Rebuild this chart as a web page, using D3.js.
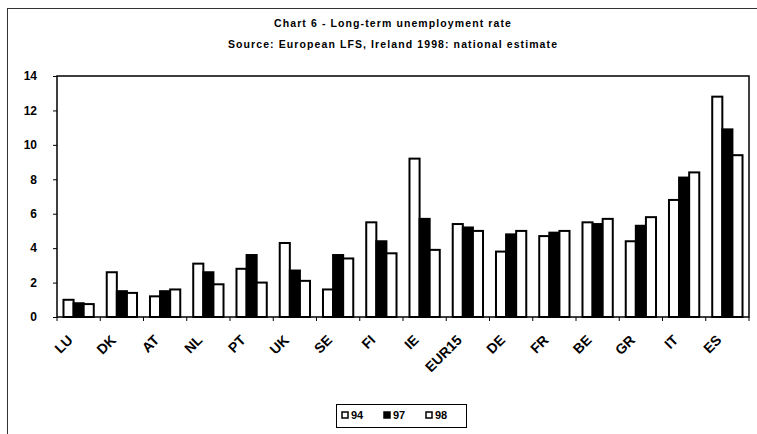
<!DOCTYPE html>
<html>
<head>
<meta charset="utf-8">
<script src="https://cdn.jsdelivr.net/npm/d3@7"></script>
<style>
  html, body { margin: 0; padding: 0; background: #fff; }
  svg { display: block; }
  text { font-family: "Liberation Sans", Arial, sans-serif; font-weight: bold; fill: #000; }
</style>
</head>
<body>
<svg id="chart" width="757" height="434"></svg>
<script>
// Long-term unemployment rate by country, 1994 / 1997 / 1998
const countries = ["LU", "DK", "AT", "NL", "PT", "UK", "SE", "FI", "IE", "EUR15", "DE", "FR", "BE", "GR", "IT", "ES"];
const seriesNames = ["94", "97", "98"];
const values94 = [1.0, 2.6, 1.2, 3.1, 2.8, 4.3, 1.6, 5.5, 9.2, 5.4, 3.8, 4.7, 5.5, 4.4, 6.8, 12.8];
const values97 = [0.8, 1.5, 1.5, 2.6, 3.6, 2.7, 3.6, 4.4, 5.7, 5.2, 4.8, 4.9, 5.4, 5.3, 8.1, 10.9];
const values98 = [0.75, 1.4, 1.6, 1.9, 2.0, 2.1, 3.4, 3.7, 3.9, 5.0, 5.0, 5.0, 5.7, 5.8, 8.4, 9.4];
const yTicks = [0, 2, 4, 6, 8, 10, 12, 14];
const titleText = "Chart 6 - Long-term unemployment rate";
const subtitleText = "Source: European LFS, Ireland 1998: national estimate";

const seriesValues = [values94, values97, values98];
const fills = { "94": "#fff", "97": "#000", "98": "#fff" };

const svg = d3.select("#chart");
const plot = { left: 57, right: 749, top: 76, bottom: 317 };

// chart area border
svg.append("rect")
  .attr("x", 7.5).attr("y", 8.5)
  .attr("width", 800).attr("height", 500)
  .attr("fill", "none").attr("stroke", "#333").attr("stroke-width", 1);

// titles
svg.append("text").attr("x", 393).attr("y", 27)
  .attr("text-anchor", "middle").style("font-size", "10.5px").style("letter-spacing", "1.1px")
  .text(titleText);
svg.append("text").attr("x", 393).attr("y", 48)
  .attr("text-anchor", "middle").style("font-size", "10.5px").style("letter-spacing", "1.1px")
  .text(subtitleText);

const x0 = d3.scaleBand().domain(countries)
  .range([plot.left, plot.right]).paddingInner(0.3).paddingOuter(0.15);
const x1 = d3.scaleBand().domain(seriesNames).range([0, x0.bandwidth()]);
const y = d3.scaleLinear().domain([0, 14]).range([plot.bottom, plot.top]);

// bars
const rows = countries.map((c, i) => ({ country: c, vals: seriesNames.map((s, k) => ({ s, v: seriesValues[k][i] })) }));
const groups = svg.append("g").selectAll("g").data(rows).join("g")
  .attr("transform", d => `translate(${x0(d.country)},0)`);
groups.selectAll("rect").data(d => d.vals).join("rect")
  .attr("x", d => x1(d.s))
  .attr("y", d => y(d.v))
  .attr("width", x1.bandwidth())
  .attr("height", d => y(0) - y(d.v))
  .attr("fill", d => fills[d.s])
  .attr("stroke", "#000").attr("stroke-width", 2);

// plot frame
svg.append("rect")
  .attr("x", plot.left).attr("y", plot.top)
  .attr("width", plot.right - plot.left).attr("height", plot.bottom - plot.top)
  .attr("fill", "none").attr("stroke", "#000").attr("stroke-width", 1.5);

// y axis
const yAxis = svg.append("g").attr("transform", `translate(${plot.left},0)`)
  .call(d3.axisLeft(y).tickValues(yTicks).tickSize(4).tickPadding(16).tickFormat(d3.format("d")));
yAxis.select(".domain").remove();
yAxis.selectAll("line").attr("stroke", "#000").attr("stroke-width", 1);
yAxis.selectAll("text").style("font-size", "12px");

// x axis: ticks between categories, labels rotated
const boundaries = d3.range(countries.length + 1).map(i => plot.left + i * x0.step());
svg.append("g").selectAll("line").data(boundaries).join("line")
  .attr("x1", d => d).attr("x2", d => d)
  .attr("y1", plot.bottom).attr("y2", plot.bottom + 4)
  .attr("stroke", "#000").attr("stroke-width", 1);

svg.append("g").selectAll("text").data(countries).join("text")
  .attr("text-anchor", "end")
  .attr("transform", d => `translate(${x0(d) + x0.bandwidth() / 2 - 5},${plot.bottom + 24}) rotate(-45)`)
  .style("font-size", "14px")
  .text(d => d);

// legend
const legend = svg.append("g");
legend.append("rect").attr("x", 336.5).attr("y", 404.5).attr("width", 130).attr("height", 23)
  .attr("fill", "#fff").attr("stroke", "#000").attr("stroke-width", 1);
const legendX = d3.scalePoint().domain(seriesNames).range([342, 426]);
const items = legend.selectAll("g").data(seriesNames).join("g")
  .attr("transform", d => `translate(${legendX(d)},412)`);
items.append("rect").attr("width", 6).attr("height", 6)
  .attr("fill", d => fills[d]).attr("stroke", "#000").attr("stroke-width", 1.5);
items.append("text").attr("x", 9).attr("y", 7).style("font-size", "11px").text(d => d);
</script>
</body>
</html>
